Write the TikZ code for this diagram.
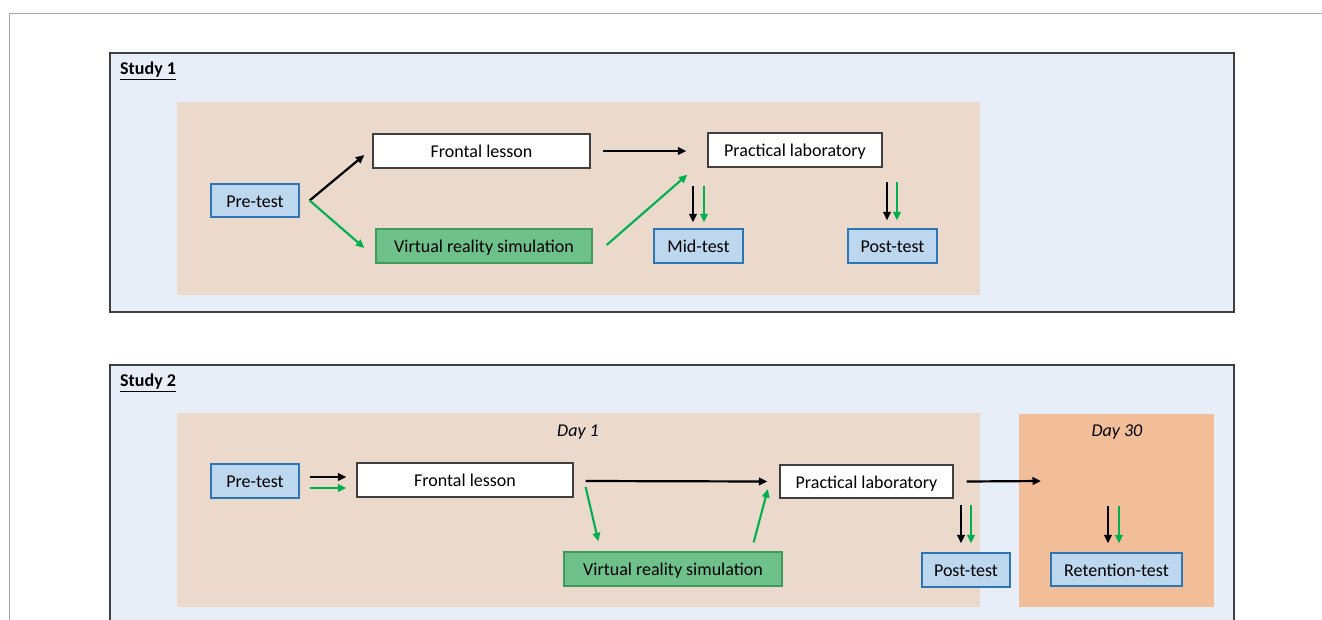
\documentclass[tikz,border=0pt]{standalone}
\usepackage{fontspec}
\setmainfont{Carlito}
\usetikzlibrary{arrows.meta}
\definecolor{framegray}{HTML}{A8A8A8}
\definecolor{studyfill}{HTML}{E7EEF8}
\definecolor{studyline}{HTML}{404040}
\definecolor{peach}{HTML}{EBD9CB}
\definecolor{salmon}{HTML}{F2BD99}
\definecolor{testfill}{HTML}{BDD7EE}
\definecolor{testline}{HTML}{2E75B6}
\definecolor{vrfill}{HTML}{6EC18A}
\definecolor{vrline}{HTML}{3E9A5E}
\definecolor{arrgreen}{HTML}{00B050}
\tikzset{
  box/.style={draw=studyline, line width=1.3pt, fill=white, minimum height=34pt, inner sep=0pt, text height=16pt, text depth=2.4pt, font=\fontsize{18}{21}\selectfont},
  testbox/.style={box, draw=testline, fill=testfill},
  vrbox/.style={box, draw=vrline, fill=vrfill},
  studybox/.style={draw=studyline, line width=2pt, fill=studyfill},
  blk/.style={-{Triangle[length=8.5pt,width=7.5pt]}, line width=2.2pt, black},
  grn/.style={-{Triangle[length=8.5pt,width=7.5pt]}, line width=2.1pt, arrgreen},
  lbl/.style={font=\fontsize{18}{21}\selectfont, inner sep=0pt},
}
\begin{document}
\begin{tikzpicture}[x=1pt,y=-1pt]
\useasboundingbox (0,0) rectangle (1322,619);
\clip (0,0) rectangle (1322,619);
\fill[white] (0,0) rectangle (1322,619);
% outer frame lines
\draw[framegray, line width=1pt] (9.5,640) -- (9.5,13.5) -- (1330,13.5);

% ---------------- Study 1 ----------------
\draw[studybox] (110,53) rectangle (1234,312);
\node[lbl, anchor=west, font=\fontsize{18}{21}\selectfont\bfseries] (s1) at (120,71) {\underline{Study 1}};
\fill[peach] (177,102) rectangle (980,295);

\node[testbox, minimum width=88pt, minimum height=33pt] (pre1) at (255,200.5) {Pre-test};
\node[box, minimum width=217pt] (fr1) at (481.5,151) {Frontal lesson};
\node[vrbox, minimum width=216pt] (vr1) at (484,246) {Virtual reality simulation};
\node[box, minimum width=174pt] (pr1) at (795,150) {Practical laboratory};
\node[testbox, minimum width=89pt] (mid1) at (698.5,246) {Mid-test};
\node[testbox, minimum width=89pt] (post1) at (892.5,246) {Post-test};

\draw[blk] ([xshift=10pt]pre1.east) -- ([xshift=-8pt,yshift=-4pt]fr1.west);
\draw[grn] ([xshift=10pt]pre1.east) -- ([xshift=-11pt,yshift=-2pt]vr1.west);
\draw[blk] ([xshift=12pt]fr1.east) -- ([xshift=-21pt,yshift=-1pt]pr1.west);
\draw[grn] ([xshift=14pt,yshift=1pt]vr1.east) -- ([xshift=-20pt,yshift=-7pt]pr1.south west);
\draw[blk] ([xshift=-5.5pt,yshift=42pt]mid1.north) -- ([xshift=-5.5pt,yshift=6pt]mid1.north);
\draw[grn] ([xshift=5.5pt,yshift=42pt]mid1.north) -- ([xshift=5.5pt,yshift=6pt]mid1.north);
\draw[blk] ([xshift=-5.5pt,yshift=46pt]post1.north) -- ([xshift=-5.5pt,yshift=8pt]post1.north);
\draw[grn] ([xshift=4.5pt,yshift=46pt]post1.north) -- ([xshift=4.5pt,yshift=8pt]post1.north);

% ---------------- Study 2 ----------------
\draw[studybox] (110,365) rectangle (1234,640);
\node[lbl, anchor=west, font=\fontsize{18}{21}\selectfont\bfseries] (s2) at (120,383) {\underline{Study 2}};
\fill[peach] (177,413) rectangle (980,607);
\fill[salmon] (1019,414) rectangle (1214,607);
\node[lbl, font=\fontsize{18}{21}\selectfont\itshape] (d1) at (578,432) {Day 1};
\node[lbl, font=\fontsize{18}{21}\selectfont\itshape] (d30) at (1117,432) {Day 30};

\node[testbox, minimum width=88pt] (pre2) at (255,481) {Pre-test};
\node[box, minimum width=216pt] (fr2) at (465,480) {Frontal lesson};
\node[box, minimum width=173pt, minimum height=33pt] (pr2) at (866.5,481.5) {Practical laboratory};
\node[vrbox, minimum width=218pt] (vr2) at (673,569) {Virtual reality simulation};
\node[testbox, minimum width=88pt] (post2) at (966,570) {Post-test};
\node[testbox, minimum width=131pt, minimum height=33pt] (ret2) at (1116.5,569.5) {Retention-test};
\coordinate (day30in) at (1041,481);

\draw[blk] ([xshift=10pt,yshift=4pt]pre2.east) -- ([xshift=-10pt,yshift=3pt]fr2.west);
\draw[grn] ([xshift=10pt,yshift=-7pt]pre2.east) -- ([xshift=-10pt,yshift=-8pt]fr2.west);
\draw[blk] ([xshift=12pt,yshift=-1pt]fr2.east) -- ([xshift=-12pt]pr2.west);
\draw[grn] ([xshift=12pt,yshift=-7pt]fr2.east) -- ([xshift=35pt,yshift=10pt]vr2.north west);
\draw[grn] ([xshift=-29pt,yshift=9pt]vr2.north east) -- ([xshift=-11.5pt,yshift=-7.5pt]pr2.west);
\draw[blk] ([xshift=13pt]pr2.east) -- (day30in);
\draw[blk] ([xshift=-5pt,yshift=47pt]post2.north) -- ([xshift=-5pt,yshift=9pt]post2.north);
\draw[grn] ([xshift=5pt,yshift=47pt]post2.north) -- ([xshift=5pt,yshift=9pt]post2.north);
\draw[blk] ([xshift=-8.5pt,yshift=46pt]ret2.north) -- ([xshift=-8.5pt,yshift=9pt]ret2.north);
\draw[grn] ([xshift=2.5pt,yshift=46pt]ret2.north) -- ([xshift=2.5pt,yshift=9pt]ret2.north);
\end{tikzpicture}
\end{document}
